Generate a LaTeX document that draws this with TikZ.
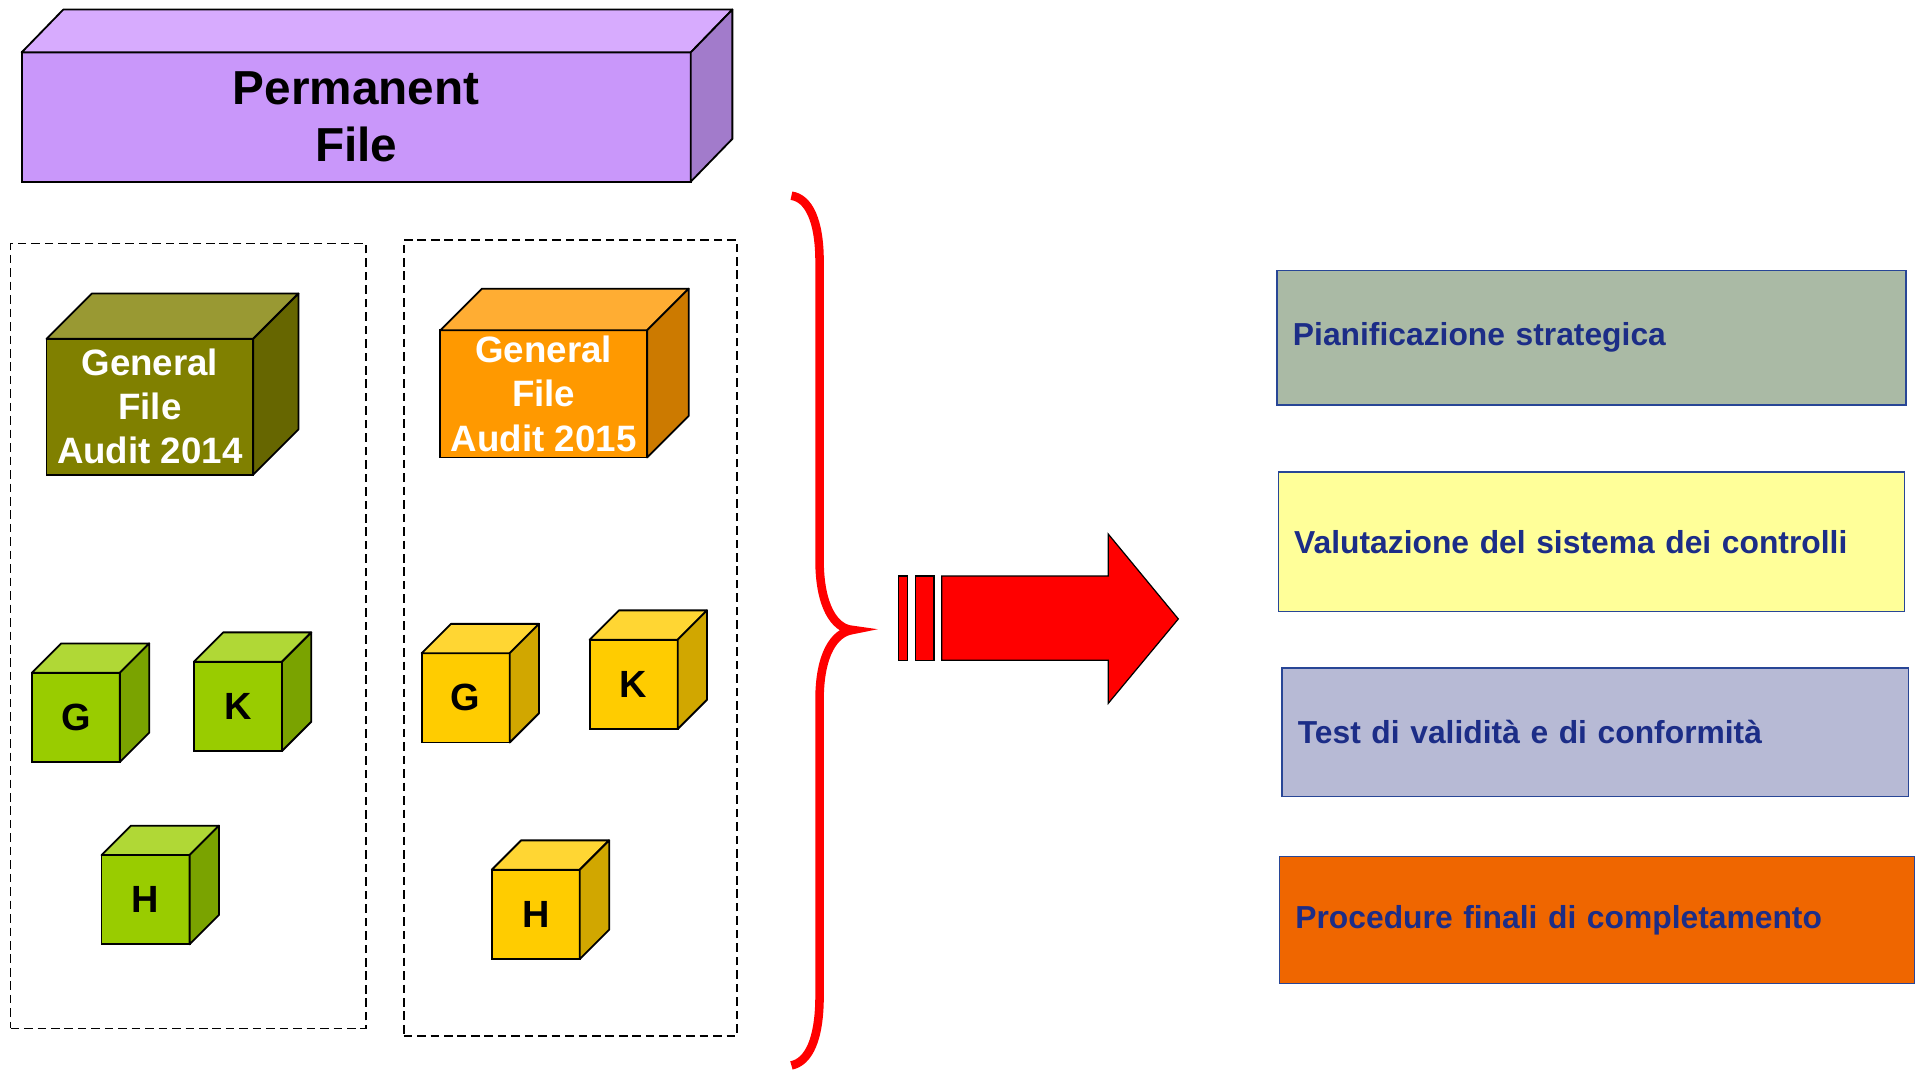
\documentclass[tikz,border=0pt]{standalone}
\usepackage{fontspec}
\setmainfont{Liberation Sans}
\definecolor{pfF}{HTML}{C997FA}
\definecolor{pfT}{HTML}{D7ABFE}
\definecolor{pfS}{HTML}{A27BCB}
\definecolor{olF}{HTML}{808000}
\definecolor{olT}{HTML}{999933}
\definecolor{olS}{HTML}{666600}
\definecolor{orF}{HTML}{FF9900}
\definecolor{orT}{HTML}{FFAD33}
\definecolor{orS}{HTML}{CC7A00}
\definecolor{grF}{HTML}{99CC00}
\definecolor{grT}{HTML}{B0D836}
\definecolor{grS}{HTML}{7AA300}
\definecolor{yeF}{HTML}{FFCC00}
\definecolor{yeT}{HTML}{FFD633}
\definecolor{yeS}{HTML}{D1A700}
\definecolor{navy}{RGB}{28,45,135}
\definecolor{bBorder}{RGB}{40,70,150}
\definecolor{boxA}{HTML}{AABAA5}
\definecolor{boxB}{HTML}{FFFF99}
\definecolor{boxC}{HTML}{B7BAD5}
\definecolor{boxD}{HTML}{EF6600}
\tikzset{
  cubeedge/.style={draw=black, line width=1.5pt, line join=round},
  cubefront/.style={draw=black, line width=1.5pt, outer sep=0pt, inner sep=0pt, align=center},
  smallcube/.style={cubefront, minimum width=72, minimum height=73, font=\bfseries\fontsize{31}{36}\selectfont},
  bigcube/.style={cubefront, text=white, font=\bfseries\fontsize{30}{36}\selectfont},
  dashbox/.style={draw=black, line width=1.4pt, dash pattern=on 7pt off 4pt, outer sep=0pt, inner sep=0pt},
  rbox/.style={draw=bBorder, line width=1.2pt, outer sep=0pt, inner xsep=13pt, inner ysep=0pt, align=left, text=navy, font=\bfseries\fontsize{26}{30}\selectfont},
  redshape/.style={fill=red, draw=black, line width=1pt, line join=miter}
}
\newcommand\cubefaces[5]{%
  \filldraw[fill=#4, cubeedge] (#1.north west) -- ([shift={(#2,#3)}]#1.north west) -- ([shift={(#2,#3)}]#1.north east) -- (#1.north east) -- cycle;
  \filldraw[fill=#5, cubeedge] (#1.north east) -- ([shift={(#2,#3)}]#1.north east) -- ([shift={(#2,#3)}]#1.south east) -- (#1.south east) -- cycle;
}
\begin{document}
\begin{tikzpicture}[x=1pt, y=1pt]
\useasboundingbox (0,0) rectangle (1568,-875);

% Permanent file
\node[cubefront, fill=pfF, minimum width=547, minimum height=105.7, font=\bfseries\fontsize{39}{47}\selectfont] (perm) at (291.25,-95.65) {Permanent\\File};
\cubefaces{perm}{34}{35}{pfT}{pfS}

% dashed containers
\node[dashbox, minimum width=290.5, minimum height=641.7] (c2014) at (153.95,-519.85) {};
\node[dashbox, minimum width=272.4, minimum height=650.5] (c2015) at (466.2,-521.45) {};

% general files
\node[bigcube, fill=olF, minimum width=169, minimum height=111] (gf14) at (122.5,-332.5) {General\\File\\Audit 2014};
\cubefaces{gf14}{37}{37}{olT}{olS}
\node[bigcube, fill=orF, minimum width=169, minimum height=104] (gf15) at (444.5,-322) {General\\File\\Audit 2015};
\cubefaces{gf15}{34}{34}{orT}{orS}

% small green cubes
\node[smallcube, fill=grF] (gG) at (62,-586.5) {G};
\cubefaces{gG}{24}{24}{grT}{grS}
\node[smallcube, fill=grF] (gK) at (194.5,-577.5) {K};
\cubefaces{gK}{24}{24}{grT}{grS}
\node[smallcube, fill=grF] (gH) at (119,-735.5) {H};
\cubefaces{gH}{24}{24}{grT}{grS}

% small yellow cubes
\node[smallcube, fill=yeF] (yG) at (380.7,-570.5) {G};
\cubefaces{yG}{24}{24}{yeT}{yeS}
\node[smallcube, fill=yeF] (yK) at (518,-559.5) {K};
\cubefaces{yK}{24}{24}{yeT}{yeS}
\node[smallcube, fill=yeF] (yH) at (438,-747.5) {H};
\cubefaces{yH}{24}{24}{yeT}{yeS}

% red brace
\draw[red, line width=7pt] (647,-160) .. controls (661,-162) and (670,-180) .. (670,-214)
  -- (670,-458) .. controls (670,-495) and (682,-514) .. (697,-515)
  .. controls (682,-517) and (670,-535) .. (670,-572)
  -- (670,-814) .. controls (670,-850) and (661,-868) .. (647,-871);

% red arrow
\filldraw[redshape] (734.4,-470.9) rectangle (742.1,-539.7);
\filldraw[redshape] (748.6,-470.9) rectangle (763.6,-539.7);
\filldraw[redshape] (769.9,-470.9) -- (906,-470.9) -- (906,-436.6) -- (963.3,-506) -- (906,-575) -- (906,-539.7) -- (769.9,-539.7) -- cycle;

% right boxes
\node[rbox, fill=boxA, minimum width=514, minimum height=110, text width=488] (b1) at (1301,-276) {Pianificazione strategica};
\node[rbox, fill=boxB, minimum width=512, minimum height=114, text width=486] (b2) at (1301,-443) {Valutazione del sistema dei controlli};
\node[rbox, fill=boxC, minimum width=512, minimum height=105, text width=486] (b3) at (1304,-598.5) {Test di validità e di conformità};
\node[rbox, fill=boxD, minimum width=519, minimum height=104, text width=493] (b4) at (1305.5,-752) {Procedure finali di completamento};
\end{tikzpicture}
\end{document}
